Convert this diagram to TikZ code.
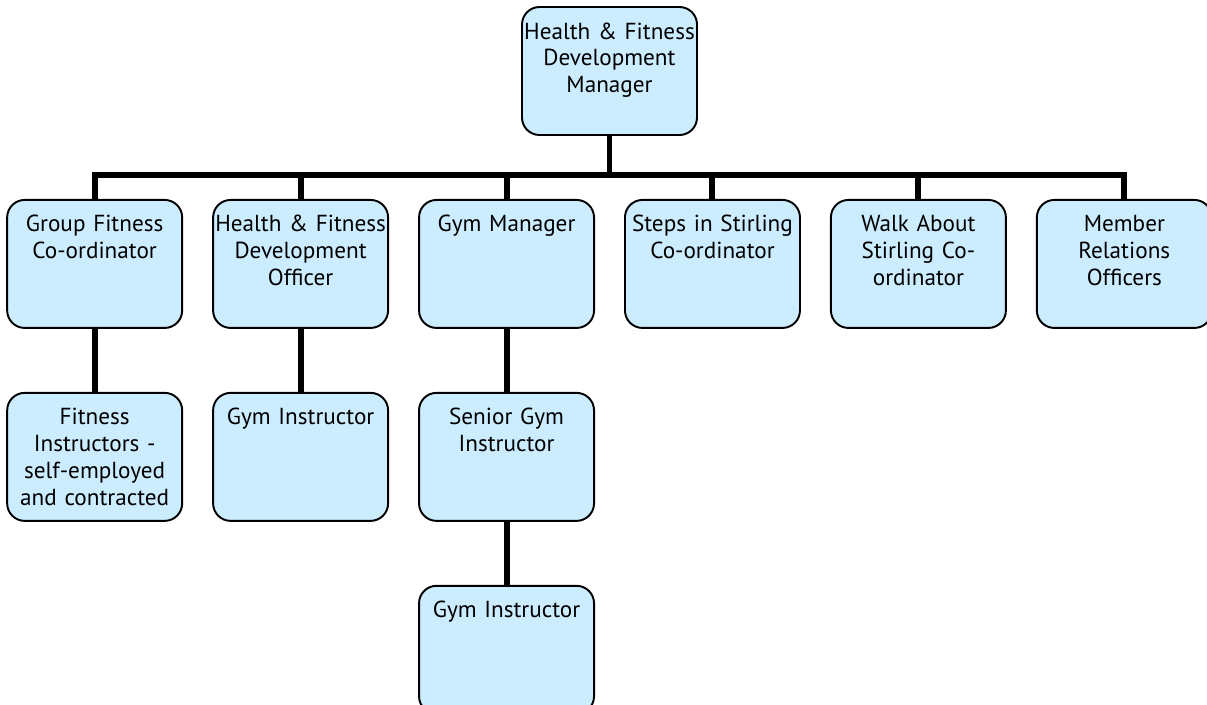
\documentclass[tikz,border=0pt]{standalone}
\usepackage{fontspec}
\setmainfont[WordSpace=0.8]{PT Sans}
\usetikzlibrary{positioning}
\definecolor{rolefill}{RGB}{204,236,255}

\begin{document}
\begin{tikzpicture}[
    node distance=1.26cm and 0.58cm,
    role/.style={rectangle, rounded corners=0.35cm, draw=black, line width=1.1pt, fill=rolefill,
        text width=3.48cm, align=center, inner xsep=0.01cm, inner ysep=0.2cm,
        text height=0.44cm, text depth=1.72cm, font=\fontsize{13.2}{15.3}\selectfont},
    link/.style={line width=3.4pt}
]
    \useasboundingbox (0,0) rectangle (24.14,-14.08);

    \node[role] (hfdm) at (12.19,-1.42) {Health \& Fitness\\Development\\Manager};

    % second level
    \node[role, below left=1.26cm and 0.29cm of hfdm.south] (gymmgr) {Gym Manager};
    \node[role, left=of gymmgr] (hfdo) {Health \& Fitness\\Development\\Officer};
    \node[role, left=of hfdo] (gfc) {Group Fitness\\Co-ordinator};
    \node[role, right=of gymmgr] (sisc) {Steps in Stirling\\Co-ordinator};
    \node[role, right=of sisc] (wasc) {Walk About\\Stirling Co-\\ordinator};
    \node[role, right=of wasc] (mro) {Member\\Relations\\Officers};

    % lower levels
    \node[role, below=of gfc] (fi) {Fitness\\Instructors -\\self-employed\\and contracted};
    \node[role, below=of hfdo] (gi1) {Gym Instructor};
    \node[role, below=of gymmgr] (sgi) {Senior Gym\\Instructor};
    \node[role, below=of sgi] (gi2) {Gym Instructor};

    \draw[link] (hfdm.south) -- ++(0,-0.78) coordinate (bus);
    \draw[link] (gfc.north) |- (bus) -| (mro.north);
    \foreach \n in {hfdo,gymmgr,sisc,wasc}
        \draw[link] (\n.north) -- (\n.north |- bus);

    \draw[link] (gfc) -- (fi);
    \draw[link] (hfdo) -- (gi1);
    \draw[link] (gymmgr) -- (sgi);
    \draw[link] (sgi) -- (gi2);
\end{tikzpicture}
\end{document}
